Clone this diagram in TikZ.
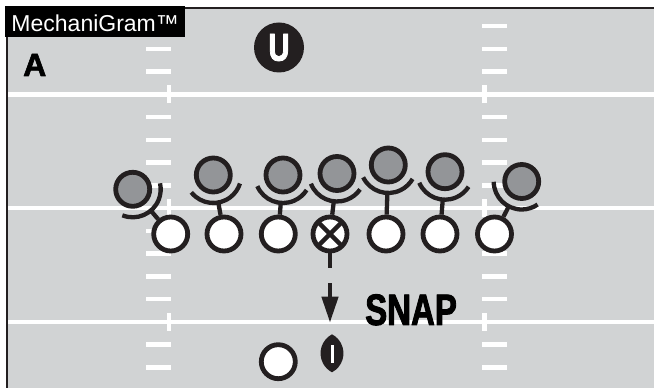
\documentclass[tikz,border=0pt]{standalone}
\usepackage{fontspec}
\setmainfont{Liberation Sans}
\newfontfamily\heavyfont{Liberation Sans Bold}[FakeBold=2]
\newfontfamily\condfont{Liberation Sans Bold}[FakeStretch=0.75,FakeBold=2]
\usetikzlibrary{calc,arrows.meta}
\definecolor{turf}{HTML}{D1D3D4}
\definecolor{defgrey}{HTML}{939598}
\definecolor{ink}{HTML}{231F20}
\begin{document}
\begin{tikzpicture}[x=1pt,y=1pt,line join=round,
	player/.style={circle,draw=ink,line width=4.8pt,minimum size=34pt,inner sep=0pt},
	offense/.style={player,fill=white},
	defense/.style={player,fill=defgrey},
	chalk/.style={white,line width=4.5pt},
	blockline/.style={ink,line width=4.3pt}]
	\useasboundingbox (0,0) rectangle (654,388);
	\fill[turf] (7,0) rectangle (654,380);
	% yard lines with the ticks at the hashes
	\foreach \yy in {66,179.75,293.5}{
		\draw[chalk] (7,\yy) -- (654,\yy);
		\draw[chalk] (168.75,\yy-9) -- (168.75,\yy+9);
		\draw[chalk] (484.25,\yy-9) -- (484.25,\yy+9);
	}
	\foreach \k in {-2,-1,1,2,3,4,6,7,8,9,11,12,13}{
		\draw[chalk] (146,66+22.75*\k) -- (171,66+22.75*\k);
		\draw[chalk] (482,66+22.75*\k) -- (507,66+22.75*\k);
	}
	\draw[ink,line width=2.5pt] (7,0) -- (7,380) -- (654,380);
	\node[fill=black,text=white,anchor=north west,inner sep=0pt,minimum width=180pt,minimum height=31pt,
		text height=20pt,text depth=0pt,font=\fontsize{23}{23}\selectfont] (brand) at (5,382) {MechaniGram™};
	\node[anchor=base west,inner sep=0pt,font=\heavyfont\fontsize{32}{32}\selectfont] (formation) at (23,312) {A};
	\node[circle,fill=ink,minimum size=50pt,inner sep=0pt,text=white,
		font=\condfont\fontsize{39}{39}\selectfont] (umpire) at (279,340.5) {U};
	% line of scrimmage
	\foreach \i/\x in {1/170.7,2/224,3/278.3,5/386,6/440,7/494.5}
		\node[offense] (o\i) at (\x,154) {};
	\node[offense,path picture={
		\draw[ink,line width=4.3pt] (path picture bounding box.north west) -- (path picture bounding box.south east)
			(path picture bounding box.south west) -- (path picture bounding box.north east);}] (o4) at (330,154) {};
	\foreach \i/\x/\y in {1/132.7/198.7,2/213.3/213,3/283/213,4/337/214.5,5/388.3/223,6/445/216.3,7/521.7/206.5}
		\node[defense] (d\i) at (\x,\y) {};
	\foreach \i in {1,...,7}{
		\draw[blockline] let \p1=($(o\i)-(d\i)$), \n1={atan2(\y1,\x1)} in
			($(d\i)+(\n1-62:28pt)$) arc[start angle=\n1-62,end angle=\n1+62,radius=28pt];
		\draw[blockline] ($(d\i)!28pt!(o\i)$) -- (o\i);
	}
	% snap
	\coordinate (snapgap) at (330,120);
	\coordinate (snaptop) at (330,104.7);
	\coordinate (snaptip) at (330,65.3);
	\draw[blockline] (o4) -- (snapgap);
	\draw[blockline,-{Triangle[length=26pt,width=16pt]}] (snaptop) -- (snaptip);
	\node[anchor=base west,inner sep=0pt,font=\condfont\fontsize{44}{44}\selectfont] (snaplabel) at (365,63) {SNAP};
	\fill[ink] (332,15.7) arc[start angle=-62.3,end angle=62.3,radius=21.45pt]
		arc[start angle=117.7,end angle=242.3,radius=21.45pt] -- cycle;
	\fill[white] (330.6,25.3) rectangle (333.8,43);
	\node[offense] (qb) at (278.3,26.3) {};
\end{tikzpicture}
\end{document}
